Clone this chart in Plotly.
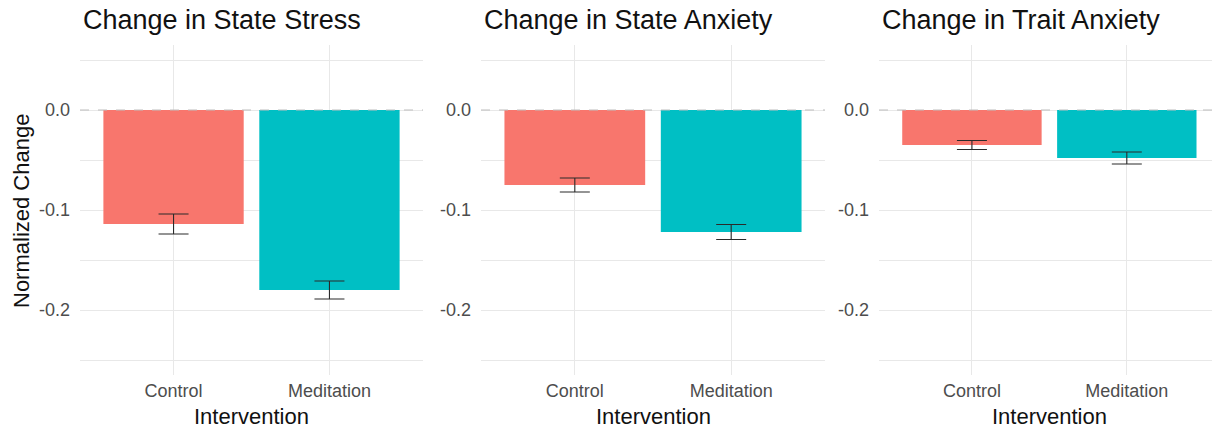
import plotly.graph_objects as go

# Per-outcome group means and standard errors
categories = ["Control", "Meditation"]
panel_titles = ["Change in State Stress", "Change in State Anxiety", "Change in Trait Anxiety"]
state_stress_mean = [-0.114, -0.180]
state_stress_se = [0.010, 0.009]
state_anxiety_mean = [-0.075, -0.122]
state_anxiety_se = [0.007, 0.0075]
trait_anxiety_mean = [-0.035, -0.048]
trait_anxiety_se = [0.0045, 0.006]
y_tick_vals = [0.0, -0.1, -0.2]
y_tick_text = ["0.0", "-0.1", "-0.2"]

W, H = 1212, 429
bar_colors = ["#F8766D", "#00BFC4"]
grid = "#e8e8e8"
font_family = "Liberation Sans, Arial"

means = [state_stress_mean, state_anxiety_mean, trait_anxiety_mean]
ses = [state_stress_se, state_anxiety_se, trait_anxiety_se]

# panel pixel extents (left, right) and x ranges
panels_px = [(80, 423), (481, 825), (879, 1212)]
x_ranges = [[-0.6, 1.6], [-0.6, 1.6], [-0.6, 1.55]]
top_px, bot_px = 45, 375
y_dom = [1 - bot_px / H, 1 - top_px / H]

fig = go.Figure()
annotations = []
shapes = []
for i in range(3):
    sfx = "" if i == 0 else str(i + 1)
    fig.add_trace(go.Bar(
        x=categories, y=means[i],
        marker=dict(color=bar_colors, line=dict(width=0)),
        width=0.9,
        error_y=dict(type="data", array=ses[i], visible=True,
                     color="#2a2a2a", thickness=1.1, width=15),
        xaxis="x" + sfx, yaxis="y" + sfx,
        showlegend=False,
    ))
    l, r = panels_px[i]
    fig.layout["xaxis" + sfx] = dict(
        domain=[l / W, r / W], anchor="y" + sfx, type="category",
        range=x_ranges[i], showgrid=True, gridcolor=grid, gridwidth=1.3,
        zeroline=False, showline=False, ticks="",
        tickfont=dict(family=font_family, size=18, color="#4d4d4d"),
        ticklabelstandoff=3,
    )
    fig.layout["yaxis" + sfx] = dict(
        domain=y_dom, anchor="x" + sfx, range=[-0.265, 0.065],
        tickvals=y_tick_vals, ticktext=y_tick_text,
        showgrid=True, gridcolor=grid, gridwidth=1.3,
        minor=dict(dtick=0.1, tick0=0.05, showgrid=True, gridcolor=grid, gridwidth=1),
        zeroline=False, showline=False, ticks="",
        tickfont=dict(family=font_family, size=18, color="#4d4d4d"),
        ticklabelstandoff=9,
    )
    # dashed reference line at zero
    shapes.append(dict(type="line", xref="x" + sfx + " domain", yref="y" + sfx,
                       x0=0, x1=1, y0=0, y1=0,
                       line=dict(color="#bdbdbd", width=1, dash="dash"), layer="above"))
    annotations.append(dict(
        text=panel_titles[i], x=(l + 1) / W, y=1 - 20 / H, xref="paper", yref="paper",
        xanchor="left", yanchor="middle", showarrow=False,
        font=dict(family=font_family, size=27, color="#111111"),
    ))
    annotations.append(dict(
        text="Intervention", x=(l + (r if i < 2 else r + 7)) / 2 / W, y=1 - 416 / H,
        xref="paper", yref="paper", xanchor="center", yanchor="middle",
        showarrow=False,
        font=dict(family=font_family, size=22, color="#111111"),
    ))

annotations.append(dict(
    text="Normalized Change", x=21 / W, y=1 - 211 / H, xref="paper", yref="paper",
    xanchor="center", yanchor="middle", textangle=-90, showarrow=False,
    font=dict(family=font_family, size=22, color="#111111"),
))

fig.update_layout(
    width=W, height=H, margin=dict(l=0, r=0, t=0, b=0),
    paper_bgcolor="white", plot_bgcolor="white",
    annotations=annotations, shapes=shapes, bargap=0.1,
)

fig.write_html("out.html")
